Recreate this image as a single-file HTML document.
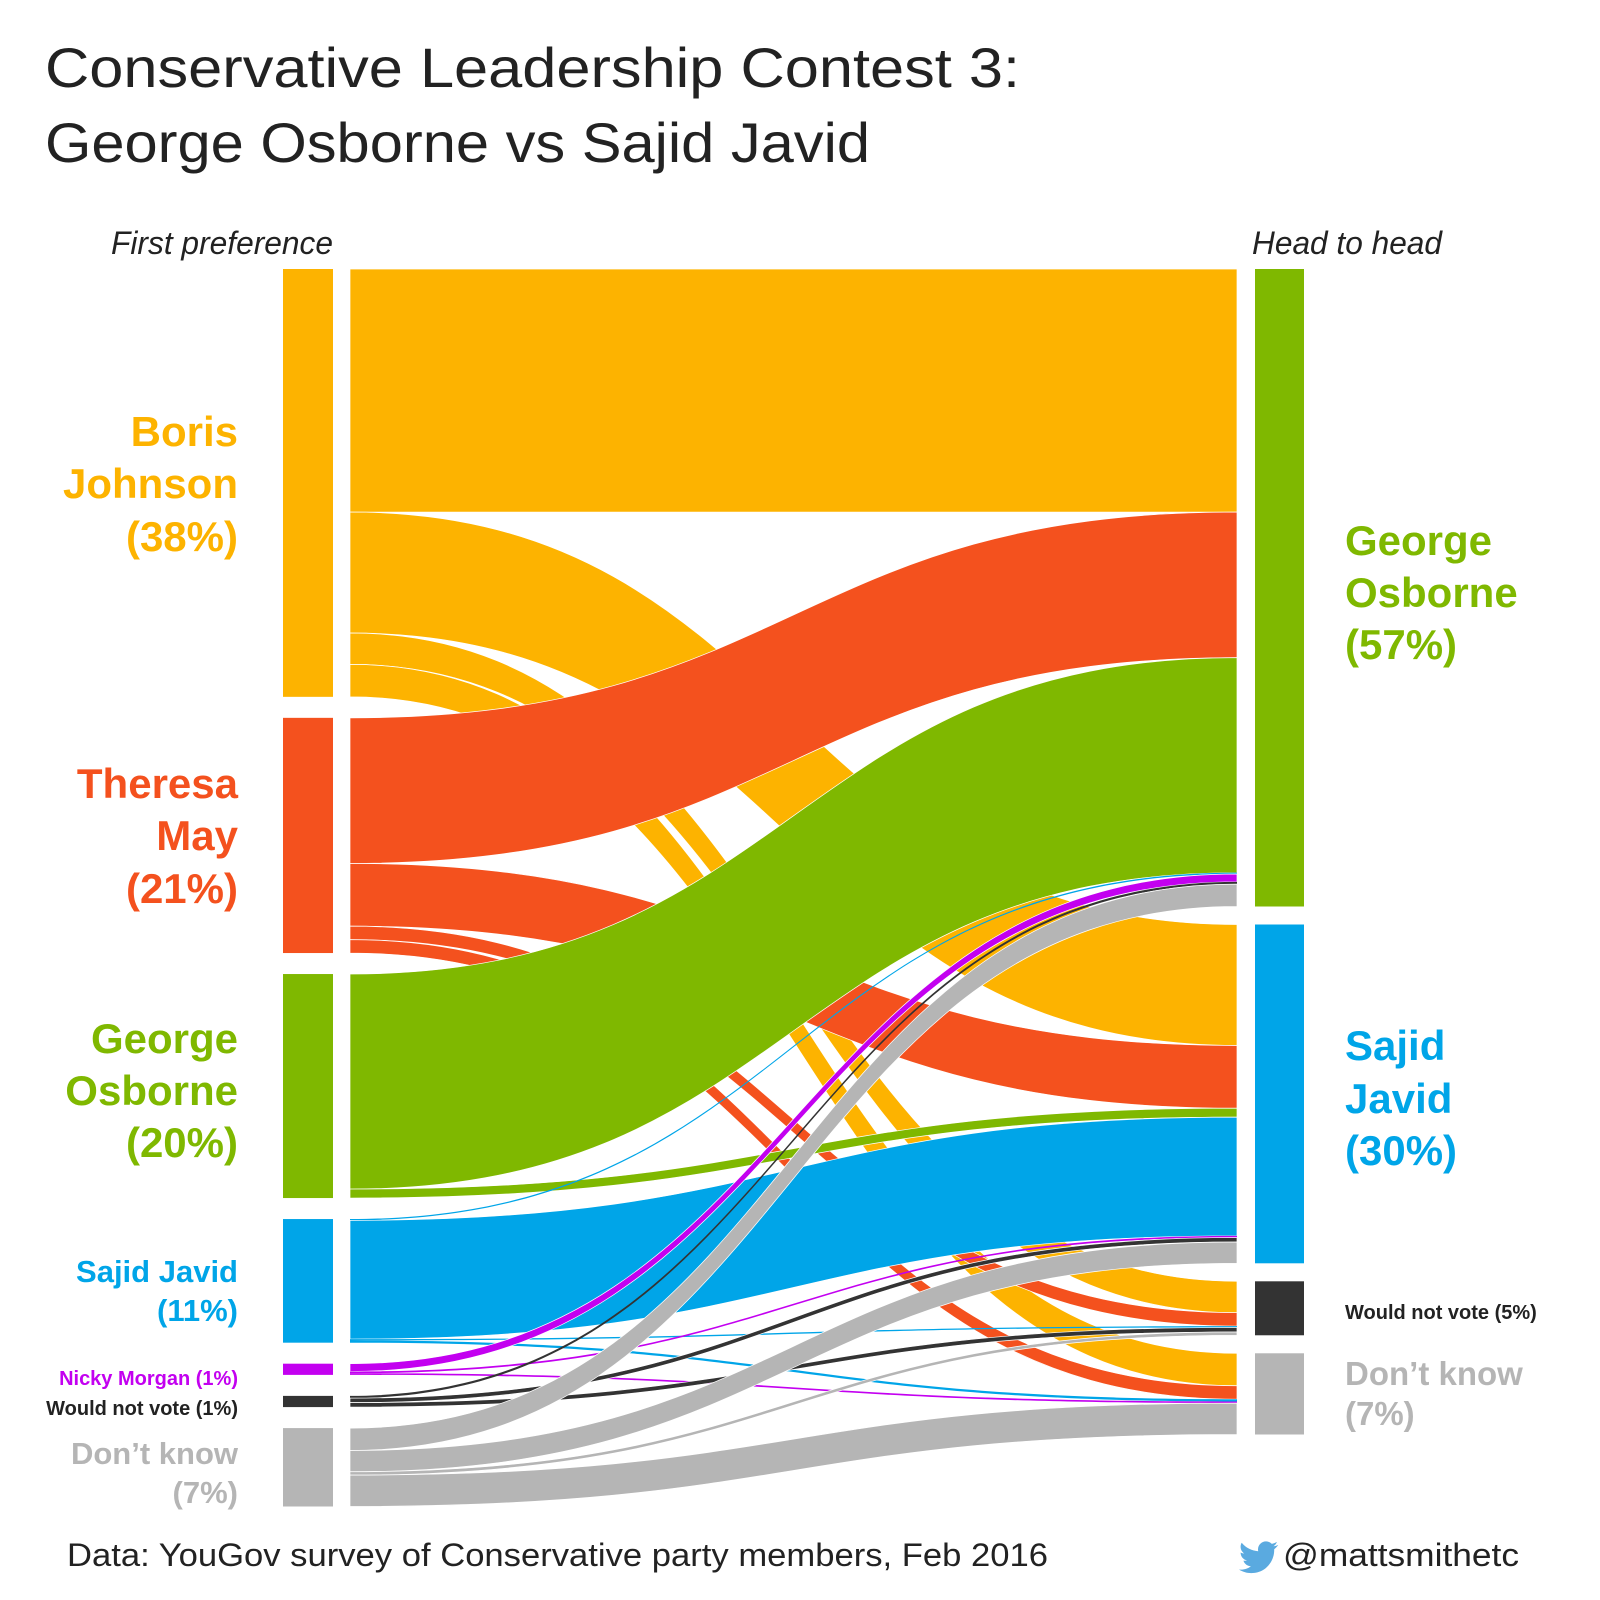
<!DOCTYPE html>
<html><head><meta charset="utf-8">
<style>
html,body{margin:0;padding:0;background:#fff;}
svg{display:block;}
text{font-family:"Liberation Sans",sans-serif;}
.b{font-weight:bold;}
</style></head>
<body>
<svg id="chart" width="1600" height="1600" viewBox="0 0 1600 1600" xmlns="http://www.w3.org/2000/svg">
<rect width="1600" height="1600" fill="#fff"/>
<text x="45" y="87" font-size="56" fill="#222" textLength="975" lengthAdjust="spacingAndGlyphs">Conservative Leadership Contest 3:</text>
<text x="45" y="162" font-size="56" fill="#222" textLength="825" lengthAdjust="spacingAndGlyphs">George Osborne vs Sajid Javid</text>
<text x="333" y="254" font-size="32" font-style="italic" fill="#222" text-anchor="end" textLength="222" lengthAdjust="spacingAndGlyphs">First preference</text>
<text x="1252" y="254" font-size="32" font-style="italic" fill="#222" textLength="190" lengthAdjust="spacingAndGlyphs">Head to head</text>
<g id="flows"></g>
<g id="nodes"></g>

<g class="b" text-anchor="end">
<g fill="#FDB300" font-size="42">
<text x="238" y="446">Boris</text><text x="238" y="498">Johnson</text><text x="238" y="551">(38%)</text></g>
<g fill="#F4511E" font-size="42">
<text x="238" y="798">Theresa</text><text x="238" y="850">May</text><text x="238" y="903">(21%)</text></g>
<g fill="#7FB800" font-size="42">
<text x="238" y="1053">George</text><text x="238" y="1105">Osborne</text><text x="238" y="1157">(20%)</text></g>
<g fill="#00A5E8" font-size="31">
<text x="238" y="1282">Sajid Javid</text><text x="238" y="1321">(11%)</text></g>
<text x="238" y="1385" fill="#C300F0" font-size="20">Nicky Morgan (1%)</text>
<text x="238" y="1415" fill="#222" font-size="20">Would not vote (1%)</text>
<g fill="#B5B5B5" font-size="31">
<text x="238" y="1464">Don’t know</text><text x="238" y="1503">(7%)</text></g>
</g>

<g class="b">
<g fill="#7FB800" font-size="42">
<text x="1345" y="555">George</text><text x="1345" y="607">Osborne</text><text x="1345" y="659">(57%)</text></g>
<g fill="#00A5E8" font-size="42">
<text x="1345" y="1060">Sajid</text><text x="1345" y="1113">Javid</text><text x="1345" y="1165">(30%)</text></g>
<text x="1345" y="1319" fill="#222" font-size="20">Would not vote (5%)</text>
<g fill="#B5B5B5" font-size="33">
<text x="1345" y="1385">Don’t know</text><text x="1345" y="1425">(7%)</text></g>
</g>

<text x="67" y="1566" font-size="32" fill="#222" textLength="981" lengthAdjust="spacingAndGlyphs">Data: YouGov survey of Conservative party members, Feb 2016</text>
<path d="M1278 1545 c-1.5 .7-3 1.1-4.6 1.3 1.7-1 2.9-2.6 3.5-4.4-1.6.9-3.3 1.6-5.1 2-1.5-1.6-3.6-2.5-5.8-2.5-4.4 0-8 3.6-8 8 0 .6.1 1.2.2 1.8-6.6-.3-12.5-3.5-16.5-8.4-.7 1.2-1.1 2.6-1.1 4 0 2.8 1.4 5.2 3.6 6.7-1.3 0-2.5-.4-3.6-1v.1c0 3.9 2.8 7.1 6.4 7.8-.7.2-1.4.3-2.1.3-.5 0-1 0-1.5-.1 1 3.2 4 5.5 7.5 5.6-2.7 2.2-6.2 3.4-10 3.4-.6 0-1.3 0-1.9-.1 3.5 2.3 7.8 3.6 12.3 3.6 14.8 0 22.9-12.3 22.9-22.9v-1c1.6-1.2 2.9-2.6 4-4.2z" fill="#5AAAE0"/>
<text x="1283" y="1566" font-size="32" fill="#222" textLength="236" lengthAdjust="spacingAndGlyphs">@mattsmithetc</text>
</svg>
<script>
// Sources (first preference) and targets (head to head)
const sources = ["Boris Johnson","Theresa May","George Osborne","Sajid Javid","Nicky Morgan","Would not vote","Don't know"];
const sourceColors = ["#FDB300","#F4511E","#7FB800","#00A5E8","#C300F0","#333333","#B5B5B5"];
const targets = ["George Osborne","Sajid Javid","Would not vote","Don't know"];
const targetColors = ["#7FB800","#00A5E8","#333333","#B5B5B5"];
// flow values (%) from each source to [GO, SJ, WNV, DK]
const fromBoris = [21.7, 10.8, 2.8, 2.9];
const fromMay = [13.0, 5.6, 1.2, 1.2];
const fromOsborne = [19.2, 0.8, 0, 0];
const fromJavid = [0.12, 10.6, 0.12, 0.2];
const fromMorgan = [0.7, 0.15, 0, 0.15];
const fromWouldNotVote = [0.2, 0.4, 0.4, 0];
const fromDontKnow = [2.0, 1.9, 0.3, 2.8];
const flowRows = [fromBoris, fromMay, fromOsborne, fromJavid, fromMorgan, fromWouldNotVote, fromDontKnow];

const NS = "http://www.w3.org/2000/svg";
const K = 11.2, TOP = 269, GAPL = 21, GAPR = 18;
const LX0 = 283, LX1 = 333, FX0 = 350, FX1 = 1237, RX0 = 1255, RX1 = 1304;
const ys = v => v * K;

const srcTot = flowRows.map(r => r.reduce((a, b) => a + b, 0));
const tgtTot = targets.map((t, j) => flowRows.reduce((a, r) => a + r[j], 0));
const srcY = []; let y = TOP;
srcTot.forEach(t => { srcY.push(y); y += ys(t) + GAPL; });
const tgtY = []; y = TOP;
tgtTot.forEach(t => { tgtY.push(y); y += ys(t) + GAPR; });

const flowsG = document.getElementById('flows');
const nodesG = document.getElementById('nodes');
const tgtCursor = tgtY.slice();
const srcCursor = srcY.slice();
const xm = (FX0 + FX1) / 2;
flowRows.forEach((row, i) => {
  row.forEach((v, j) => {
    if (v <= 0) return;
    const h = ys(v);
    const y0 = srcCursor[i], y1 = tgtCursor[j];
    srcCursor[i] += h; tgtCursor[j] += h;
    const p = document.createElementNS(NS, 'path');
    p.setAttribute('d', `M${FX0},${y0} C${xm},${y0} ${xm},${y1} ${FX1},${y1} L${FX1},${y1+h} C${xm},${y1+h} ${xm},${y0+h} ${FX0},${y0+h} Z`);
    p.setAttribute('fill', sourceColors[i]);
    p.setAttribute('stroke', '#fff');
    p.setAttribute('stroke-width', h > 3 ? '0.7' : '0');
    
    
    flowsG.appendChild(p);
  });
});
srcTot.forEach((t, i) => {
  const r = document.createElementNS(NS, 'rect');
  r.setAttribute('x', LX0); r.setAttribute('y', srcY[i]);
  r.setAttribute('width', LX1 - LX0); r.setAttribute('height', ys(t));
  r.setAttribute('fill', sourceColors[i]);
  
  
  nodesG.appendChild(r);
});
tgtTot.forEach((t, j) => {
  const r = document.createElementNS(NS, 'rect');
  r.setAttribute('x', RX0); r.setAttribute('y', tgtY[j]);
  r.setAttribute('width', RX1 - RX0); r.setAttribute('height', ys(t));
  r.setAttribute('fill', targetColors[j]);
  
  
  nodesG.appendChild(r);
});
</script>
</body></html>
